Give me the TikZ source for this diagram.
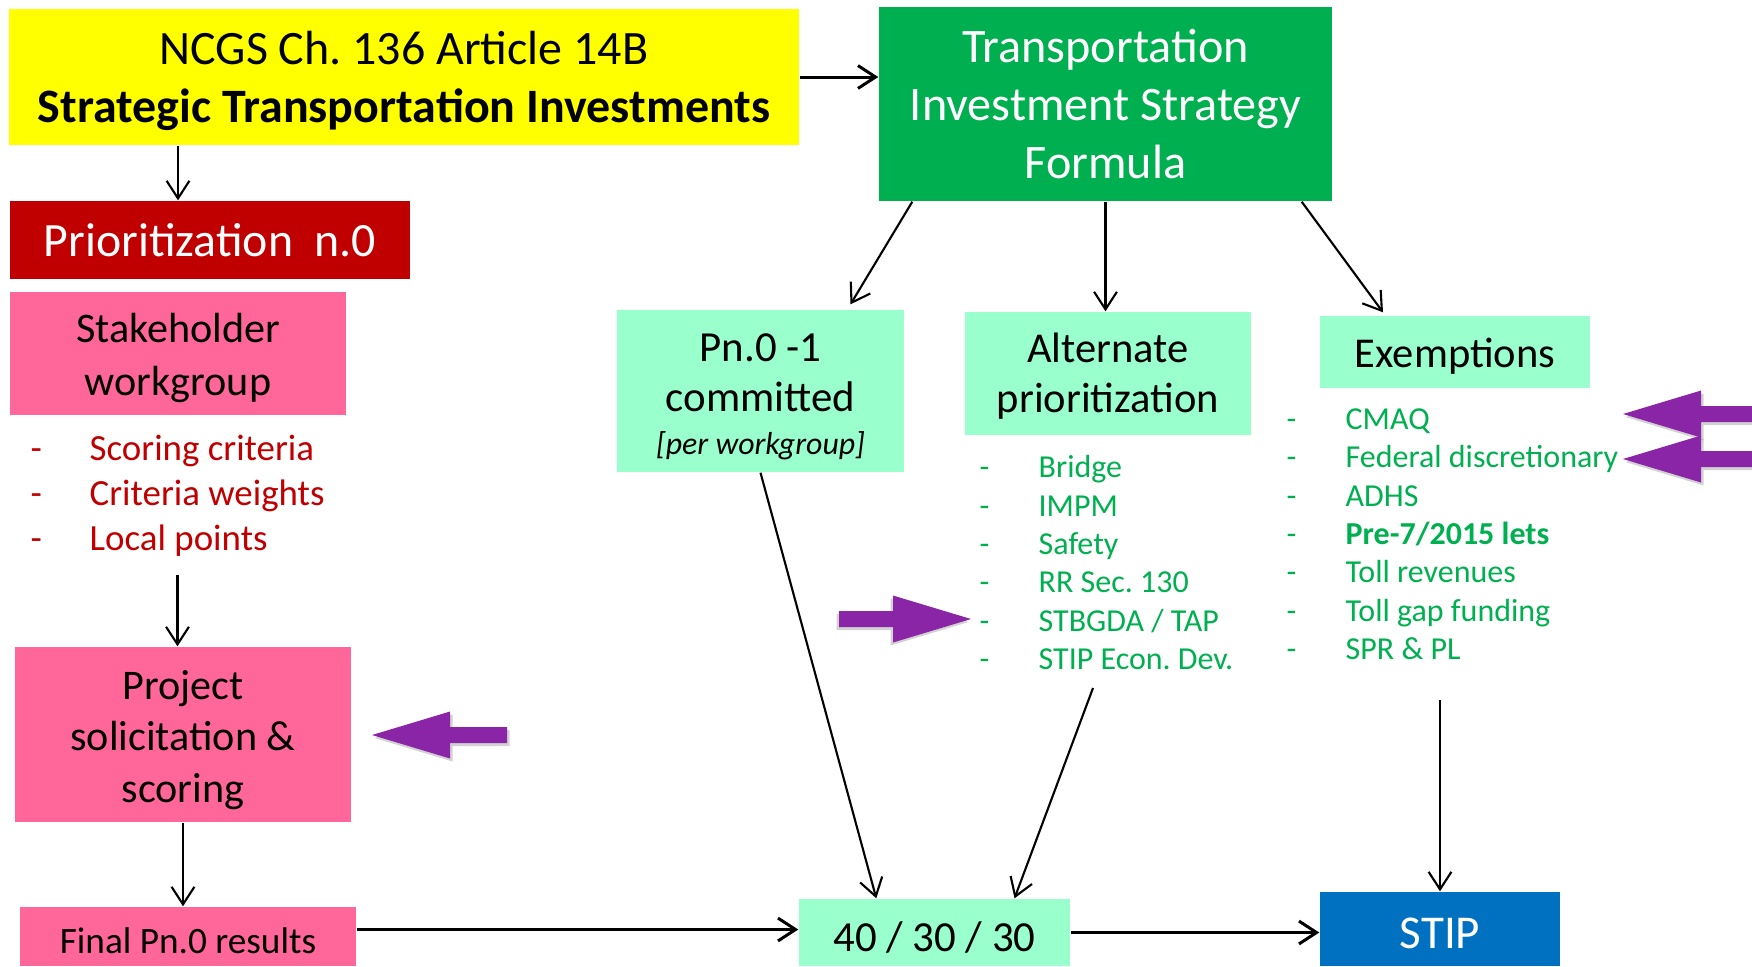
\documentclass[tikz,border=0pt]{standalone}
\usepackage{fontspec}
\setmainfont{Carlito}
\usetikzlibrary{arrows.meta}
\definecolor{statuteyellow}{HTML}{FFFF00}
\definecolor{formulagreen}{HTML}{00B050}
\definecolor{priored}{HTML}{C00000}
\definecolor{workpink}{HTML}{FF6699}
\definecolor{mint}{HTML}{99FFCC}
\definecolor{stipblue}{HTML}{0070C0}
\definecolor{listred}{HTML}{C00000}
\definecolor{listgreen}{HTML}{00B050}
\definecolor{markpurple}{HTML}{8B25A8}
\frenchspacing
\newcommand\sink[1]{\rule{0pt}{#1}}
\tikzset{
	box/.style={inner sep=0pt, align=center},
	link/.style={-{Straight Barb[length=5pt,width=6.5pt]}, line width=0.6pt},
	flow/.style={link, line width=0.85pt},
	bullets/.style={anchor=north west, inner sep=0pt, align=left},
}
% tip at #1, length #2, #3 = 1 points left, -1 points right
\newcommand\purplemark[3]{
	\begin{scope}[shift={(#1)}, xscale=#3]
		\fill[black!35, opacity=0.5, shift={(0.025,-0.03)}] (0,0) -- (0.78,0.235) -- (0.78,0.08) -- (#2,0.08) -- (#2,-0.08) -- (0.78,-0.08) -- (0.78,-0.235) -- cycle;
		\fill[markpurple] (0,0) -- (0.78,0.235) -- (0.78,0.08) -- (#2,0.08) -- (#2,-0.08) -- (0.78,-0.08) -- (0.78,-0.235) -- cycle;
	\end{scope}
}
\begin{document}
\begin{tikzpicture}
		%%%%% START %%%%%
		\useasboundingbox (0, 0) rectangle (17.52, -9.66);
		
		\node[box, fill=statuteyellow, minimum width=7.90cm, minimum height=1.36cm, font=\fontsize{13.65}{16.5}\selectfont] (statute) at (4.04, -0.77) {\sink{0.87em}NCGS Ch. 136 Article 14B\\\textbf{Strategic Transportation Investments}};
		\node[box, fill=formulagreen, text=white, minimum width=4.53cm, minimum height=1.94cm, font=\fontsize{13.7}{16.4}\selectfont] (formula) at (11.055, -1.04) {Transportation\\Investment Strategy\\Formula};
		
		\node[box, fill=priored, text=white, minimum width=4.00cm, minimum height=0.78cm, font=\fontsize{13.6}{15}\selectfont] (prio) at (2.10, -2.40) {Prioritization\ \ n.0};
		\node[box, fill=workpink, minimum width=3.36cm, minimum height=1.23cm, font=\fontsize{12}{15.1}\selectfont] (workgroup) at (1.78, -3.535) {\sink{0.9em}Stakeholder\\workgroup};
		\node[bullets, text=listred, font=\fontsize{10.5}{12.8}\selectfont] (criteria) at (0.30, -4.34) {\makebox[0.59cm][l]{-}Scoring criteria\\\makebox[0.59cm][l]{-}Criteria weights\\\makebox[0.59cm][l]{-}Local points};
		\node[box, fill=workpink, minimum width=3.36cm, minimum height=1.75cm, font=\fontsize{12}{14.65}\selectfont] (solicit) at (1.83, -7.345) {\sink{0.95em}Project\\solicitation \&\\scoring};
		\node[box, fill=workpink, minimum width=3.36cm, minimum height=0.59cm, font=\fontsize{10.6}{12}\selectfont] (final) at (1.88, -9.365) {\sink{0.93em}Final Pn.0 results};
		
		\node[box, fill=mint, minimum width=2.87cm, minimum height=1.62cm, font=\fontsize{12.2}{14.2}\selectfont] (committed) at (7.605, -3.91) {\sink{0.93em}Pn.0 -1\\committed\\[-2pt]{\fontsize{9.05}{10}\selectfont\itshape [per workgroup]}};
		\node[box, fill=mint, minimum width=2.86cm, minimum height=1.23cm, font=\fontsize{12.1}{14.2}\selectfont] (alternate) at (11.08, -3.735) {\sink{0.84em}Alternate\\prioritization};
		\node[bullets, text=listgreen, font=\fontsize{9.1}{10.9}\selectfont] (altlist) at (9.79, -4.55) {\makebox[0.59cm][l]{-}Bridge\\\makebox[0.59cm][l]{-}IMPM\\\makebox[0.59cm][l]{-}Safety\\\makebox[0.59cm][l]{-}RR Sec. 130\\\makebox[0.59cm][l]{-}STBGDA / TAP\\\makebox[0.59cm][l]{-}STIP Econ. Dev.};
		\node[box, fill=mint, minimum width=2.70cm, minimum height=0.72cm, font=\fontsize{12.1}{14.2}\selectfont] (exempt) at (14.55, -3.52) {\sink{0.91em}Exemptions};
		\node[bullets, text=listgreen, font=\fontsize{9.1}{10.9}\selectfont] (exemptlist) at (12.86, -4.08) {\makebox[0.59cm][l]{-}CMAQ\\\makebox[0.59cm][l]{-}Federal discretionary\\\makebox[0.59cm][l]{-}ADHS\\\makebox[0.59cm][l]{-}\textbf{Pre-7/2015 lets}\\\makebox[0.59cm][l]{-}Toll revenues\\\makebox[0.59cm][l]{-}Toll gap funding\\\makebox[0.59cm][l]{-}SPR \& PL};
		
		\node[box, fill=mint, minimum width=2.71cm, minimum height=0.67cm, font=\fontsize{12.2}{14.2}\selectfont] (split) at (9.345, -9.325) {\sink{0.95em}40 / 30 / 30};
		\node[box, fill=stipblue, text=white, minimum width=2.40cm, minimum height=0.74cm, font=\fontsize{13.4}{16}\selectfont] (stip) at (14.40, -9.29) {\sink{0.84em}STIP};
		
		\coordinate (criteriafoot) at (1.775, -5.75);
		\coordinate (altfoot) at (10.93, -6.88);
		\coordinate (exemptfoot) at (14.40, -7.00);
		
		\draw[flow] (statute.east) -- (statute.east -| formula.west);
		\draw[link] (statute.south -| workgroup) -- (prio.north -| workgroup);
		\draw[link] (criteriafoot) -- (solicit.north -| criteriafoot);
		\draw[link] (solicit.south) -- (final.north -| solicit);
		\draw[flow] ([yshift=0.07cm]final.east) -- ([yshift=0.07cm]final.east -| split.west);
		\draw[flow] (split.east) -- (split.east -| stip.west);
		
		\draw[link] ([xshift=0.34cm]formula.south west) -- ([xshift=0.9cm, yshift=0.05cm]committed.north);
		\draw[link] (formula.south) -- (formula.south |- alternate.north);
		\draw[link] ([xshift=-0.31cm]formula.south east) -- ([xshift=-0.72cm, yshift=0.03cm]exempt.north);
		\draw[link] (committed.south) -- ([xshift=0.78cm]split.north west);
		\draw[link] (altfoot) -- ([xshift=0.8cm]split.north);
		\draw[link] (exemptfoot) -- (stip.north);
		
		\purplemark{3.72, -7.35}{1.35}{1}
		\purplemark{9.71, -6.19}{1.32}{-1}
		\purplemark{16.23, -4.14}{1.35}{1}
		\purplemark{16.23, -4.59}{1.35}{1}
		%%%%% END %%%%%
\end{tikzpicture}
\end{document}
